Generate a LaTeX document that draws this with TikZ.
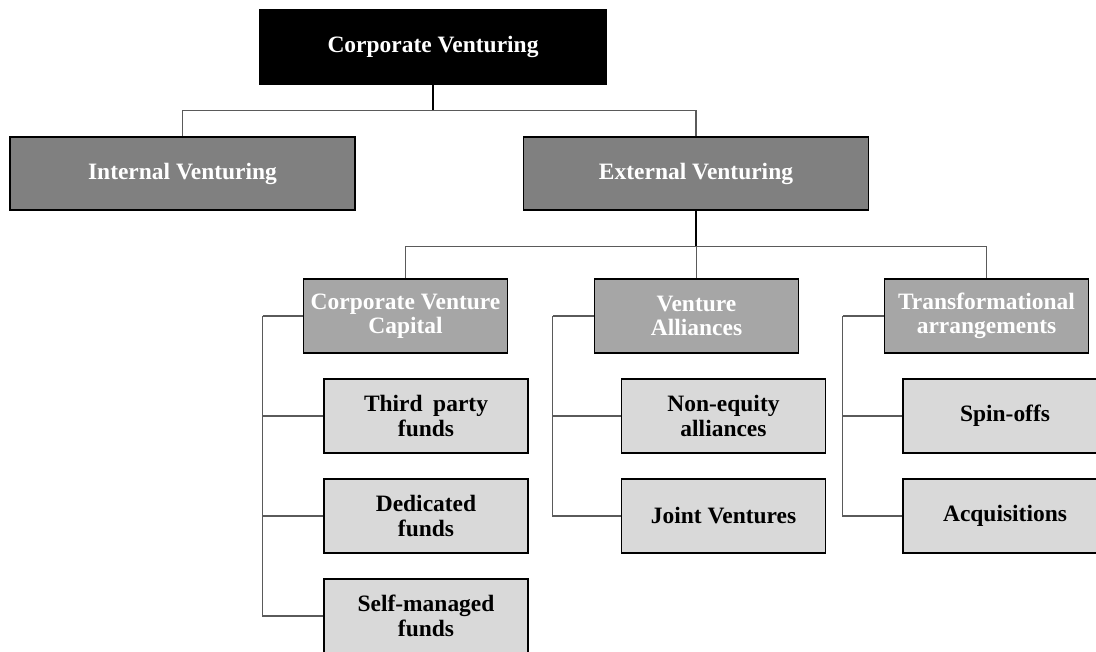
\documentclass[tikz,border=0pt]{standalone}
\usepackage{fontspec}
\setmainfont{Liberation Serif}
\usetikzlibrary{positioning}
\definecolor{lvlone}{HTML}{808080}
\definecolor{lvltwo}{HTML}{A6A6A6}
\definecolor{lvlthree}{HTML}{D9D9D9}
\definecolor{linkgray}{HTML}{5A5A5A}
\begin{document}
\begin{tikzpicture}[x=0.75pt,y=-0.75pt,
  every node/.style={font=\fontsize{17.6}{18.2}\selectfont\bfseries, align=center, inner sep=0pt},
  rootbox/.style={fill=black, text=white, minimum width=348*0.75pt, minimum height=76*0.75pt},
  onebox/.style={draw=black, line width=1.3pt, fill=lvlone, text=white, minimum width=345*0.75pt, minimum height=73*0.75pt},
  twobox/.style={draw=black, line width=1.3pt, fill=lvltwo, text=white, minimum width=204*0.75pt, minimum height=74*0.75pt},
  threebox/.style={draw=black, line width=1.3pt, fill=lvlthree, text=black, minimum width=204*0.75pt, minimum height=74*0.75pt},
  link/.style={draw=linkgray, line width=0.8pt},
  stem/.style={draw=black, line width=1.1pt}]
\useasboundingbox (0,0) rectangle (1096,652);

% top of the tree
\node[rootbox] (cv) at (433,47) {Corporate Venturing};
\node[onebox] (iv) at (182.5,173.5) {Internal Venturing};
\node[onebox] (ev) at (696,173.5) {External Venturing};

% forms of external venturing
\node[twobox] (cvc) at (405.5,316) {Corporate Venture\\Capital};
\node[twobox] (va) at (696.5,316) {Venture\\Alliances};
\node[twobox] (ta) at (986.5,316) {Transformational\\arrangements};

% corporate venture capital
\node[threebox] (tp) at (426,416) {Third\hspace{0.45em}party\\funds};
\node[threebox] (dd) at (426,516) {Dedicated\\funds};
\node[threebox] (sm) at (426,616) {Self-managed\\funds};

% venture alliances
\node[threebox] (ne) at (723.5,416) {Non-equity\\alliances};
\node[threebox] (jv) at (723.5,516) {Joint Ventures};

% transformational arrangements
\node[threebox] (so) at (1005,416) {Spin-offs};
\node[threebox] (aq) at (1005,516) {Acquisitions};

% connectors: root level
\draw[stem] (cv.south) -- ++(0,25) coordinate (j1);
\draw[link] (iv.north) |- (j1);
\draw[link] (ev.north) |- (j1);

% connectors: external venturing
\draw[stem] (ev.south) -- ++(0,36) coordinate (j2);
\draw[link] (cvc.north) |- (j2);
\draw[link] (ta.north) |- (j2);
\draw[link] (va.north) -- (va.north |- j2);

% side trunks
\draw[link] (cvc.west) -- ++(-40,0) coordinate (t1);
\draw[link] (t1) |- (tp.west);
\draw[link] (t1) |- (dd.west);
\draw[link] (t1) |- (sm.west);

\draw[link] (va.west) -- ++(-41,0) coordinate (t2);
\draw[link] (t2) |- (ne.west);
\draw[link] (t2) |- (jv.west);

\draw[link] (ta.west) -- ++(-41,0) coordinate (t3);
\draw[link] (t3) |- (so.west);
\draw[link] (t3) |- (aq.west);
\end{tikzpicture}
\end{document}
